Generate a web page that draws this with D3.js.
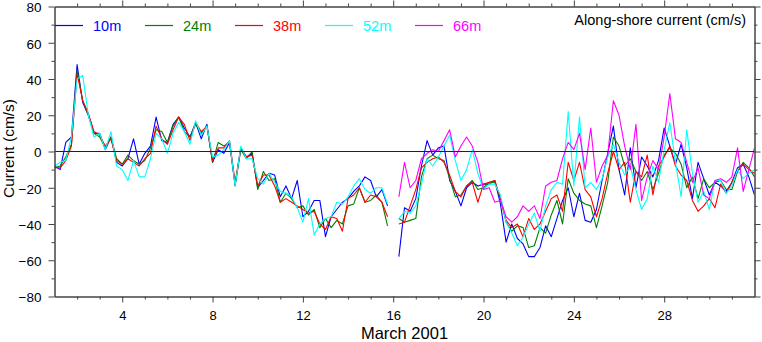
<!DOCTYPE html>
<html>
<head>
<meta charset="utf-8">
<script src="https://cdn.jsdelivr.net/npm/d3@7"></script>
<style>
  body { margin: 0; background: #fff; }
  svg { display: block; font-family: "Liberation Sans", Arial, Helvetica, sans-serif; }
</style>
</head>
<body>
<svg id="chart" width="762" height="342"></svg>
<script>
// Along-shore current at five depths, March 2001, sampled every 6 hours (day of month).
// null marks the gap in the record around the mooring turnaround on 16 March.
const startDay = 1;
const stepDay = 0.25;

const depthLabels = ["10m", "24m", "38m", "52m", "66m"];
const depthColors = ["#0000ff", "#008000", "#ff0000", "#00ffff", "#ff00ff"];

const current10m = [
  -8, -10, 5, 8,     48, 27, 20, 10,    10, 1, 8, -6,      -8, -4, 7, -7,
  -1, 3, 19, 6,      5, 15, 19, 13,     8, 16, 7, 15,      -6, 1, -1, 5,
  -19, 2, -3, -1,    -20, -16, -12, -13, -25, -19, -26, -16, -36, -33, -27, -27,
  -47, -36, -32, -28, -26, -22, -19, -14, -16, -25, -21, -30, null, -58, -31, -33,
  -26, -8, 6, -2,    2, 3, -16, -22,    -30, -20, -17, -19, -18, -18, -16, -29,
  -50, -40, -48, -51, -58, -58, -53, -41, -47, -37, -27, -20, -36, -23, -38, -39,
  -32, -16, -1, 14,  -10, -24, 2, -20,  -3, -8, -14, -5,   13, 3, -7, 4,
  -9, -26, -6, -15,  -24, -17, -19, -22, -17, -9, -7, -14,  -24
];

const current24m = [
  -9, -8, -3, 4,     45, 28, 20, 10,    8, 2, 8, -4,       -7, -2, -5, -7,
  -5, 2, 12, 11,     5, 14, 19, 11,     8, 15, 10, 14,     -6, 5, 3, 5,
  -18, 1, -4, 0,     -21, -11, -16, -15, -28, -23, -26, -31, -30, -35, -32, -42,
  -37, -42, -38, -40, -30, -29, -20, -28, -27, -24, -28, -41, null, -37, -39, -38,
  -37, -14, -4, -2,  -4, -5, -15, -25,  -24, -19, -16, -21, -20, -17, -17, -26,
  -39, -44, -41, -42, -53, -52, -42, -45, -35, -27, -40, -15, -23, -27, -29, -30,
  -42, -30, -17, 8,  3, -8, -4, -11,    -16, -11, -21, -12, -2, 2, -1, -7,
  -20, -14, -26, -15, -20, -17, -16, -21, -21, -11, -6, -9, -14
];

const current38m = [
  -9, -9, -5, 3,     43, 28, 21, 11,    9, 3, 7, -5,       -7, -4, -6, -8,
  -4, -1, 14, 7,     4, 12, 19, 15,     6, 16, 11, 14,     -5, 2, 2, 6,
  -17, 2, -3, -2,    -19, -13, -13, -19, -28, -26, -28, -30, -32, -34, -33, -40,
  -43, -36, -37, -44, -26, -24, -20, -28, -24, -25, -28, -36, null, -40, -39, -30,
  -21, -9, -6, -4,   -3, -6, -13, -22,  -25, -19, -17, -28, -18, -17, -16, -26,
  -38, -42, -40, -47, -37, -43, -40, -33, -26, -24, -33, -6, -16, -6, -21, -25,
  -36, -26, -12, 0,  -10, -6, -28, -11, -14, -2, -24, -8,  -3, 3, -8, -13,
  -16, -27, -33, -30, -26, -31, -18, -23, -17, -11, -7, -10, -12
];

const current52m = [
  -8, -6, -5, 8,     40, 42, 20, 8,     10, 1, 11, -8,     -10, -16, -5, -14,
  -14, -4, 10, 7,    -1, 10, 16, 11,    4, 17, 9, 14,      -3, -2, 1, 6,
  -19, 3, -4, -4,    -15, -18, -12, -17, -22, -23, -25, -31, -39, -26, -46, -40,
  -37, -36, -28, -29, -25, -19, -15, -21, -23, -20, -20, -29, null, -37, -33, -34,
  -30, -18, -4, -8,  -3, 3, 9, -5,      -16, -10, 1, -12,  -21, -18, -18, -24,
  -39, -45, -52, -47, -40, -34, -44, -30, -21, -17, -18, 22, -19, 19, -20, -17,
  -21, -15, -3, 4,   -6, -13, -8, -21,  -32, -26, -8, -17,  1, 16, -6, -25,
  12, -12, -28, -22, -32, -16, -16, -23, -19, -10, -15, -12, -10
];

const current66m = [
  null, null, null, null, null, null, null, null, null, null, null, null, null, null, null, null,
  null, null, null, null, null, null, null, null, null, null, null, null, null, null, null, null,
  null, null, null, null, null, null, null, null, null, null, null, null, null, null, null, null,
  null, null, null, null, null, null, null, null, null, null, null, null, null, -25, -6, -20,
  -16, -4, -1, 1,    0, 6, 12, -3,      3, 8, 3, -6,       -21, -20, -28, -27,
  -36, -39, -36, -30, -33, -30, -37, -19, -17, -16, -4, 5,  1, 10, -10, 13,
  -17, -8, -2, 28,   20, 3, -10, 15,    -27, -14, -5, -10, 8, 32, 7, 5,
  -6, -17, -9, -24,  -26, -16, -15, -17, -14, 2, -22, -10, 2
];

const seriesValues = [current10m, current24m, current38m, current52m, current66m];

const yMajorTicks = [-80, -60, -40, -20, 0, 20, 40, 60, 80];
const yMinorTicks = [-70, -50, -30, -10, 10, 30, 50, 70];
const xMajorTicks = [4, 8, 12, 16, 20, 24, 28];
const xMinorTicks = [2, 3, 5, 6, 7, 9, 10, 11, 13, 14, 15, 17, 18, 19, 21, 22, 23, 25, 26, 27, 29, 30, 31];

const chartTitle = "Along-shore current (cm/s)";
const xTitle = "March 2001";
const yTitle = "Current (cm/s)";

// ---- layout ----
const svg = d3.select("#chart");
const plot = { left: 54.5, right: 754.5, top: 6.5, bottom: 296.5 };

const x = d3.scaleLinear().domain([1, 32]).range([plot.left, plot.right]);
const y = d3.scaleLinear().domain([-80, 80]).range([plot.bottom, plot.top]);

const axisColor = "#444";

// ---- data lines ----
const clipId = "plot-clip";
svg.append("clipPath").attr("id", clipId)
  .append("rect")
  .attr("x", plot.left).attr("y", plot.top)
  .attr("width", plot.right - plot.left).attr("height", plot.bottom - plot.top);

const line = d3.line()
  .defined(v => v !== null)
  .x((v, i) => x(startDay + i * stepDay))
  .y(v => y(v));

svg.append("g").attr("clip-path", `url(#${clipId})`)
  .selectAll("path")
  .data(seriesValues)
  .join("path")
  .attr("d", line)
  .attr("fill", "none")
  .attr("stroke", (d, i) => depthColors[i])
  .attr("stroke-width", 1.1)
  .attr("stroke-linejoin", "round");

// zero reference line
svg.append("line")
  .attr("x1", plot.left).attr("x2", plot.right)
  .attr("y1", y(0)).attr("y2", y(0))
  .attr("stroke", "#222").attr("stroke-width", 1);

// ---- axes ----
function styleAxis(g) {
  g.selectAll(".domain").attr("stroke", axisColor);
  g.selectAll(".tick line").attr("stroke", axisColor);
  g.selectAll(".tick text").attr("fill", "#000").style("font-size", "13.5px");
}

// bottom
svg.append("g").attr("transform", `translate(0,${plot.bottom})`)
  .call(d3.axisBottom(x).tickValues(xMinorTicks).tickSize(3).tickFormat("").tickSizeOuter(0))
  .call(styleAxis);
svg.append("g").attr("transform", `translate(0,${plot.bottom})`)
  .call(d3.axisBottom(x).tickValues(xMajorTicks).tickSize(6).tickPadding(8.5).tickSizeOuter(0))
  .call(styleAxis)
  .call(g => g.selectAll(".tick text").style("font-size", "13px"));

// top
svg.append("g").attr("transform", `translate(0,${plot.top})`)
  .call(d3.axisTop(x).tickValues(xMinorTicks).tickSize(3).tickFormat("").tickSizeOuter(0))
  .call(styleAxis);
svg.append("g").attr("transform", `translate(0,${plot.top})`)
  .call(d3.axisTop(x).tickValues(xMajorTicks).tickSize(6).tickFormat("").tickSizeOuter(0))
  .call(styleAxis);

// left
svg.append("g").attr("transform", `translate(${plot.left},0)`)
  .call(d3.axisLeft(y).tickValues(yMinorTicks).tickSize(3).tickFormat("").tickSizeOuter(0))
  .call(styleAxis);
svg.append("g").attr("transform", `translate(${plot.left},0)`)
  .call(d3.axisLeft(y).tickValues(yMajorTicks).tickSize(6).tickPadding(7).tickSizeOuter(0))
  .call(styleAxis)
  .call(g => g.selectAll(".tick text").attr("dy", "0.4em"));

// right
svg.append("g").attr("transform", `translate(${plot.right},0)`)
  .call(d3.axisRight(y).tickValues(yMinorTicks).tickSize(3).tickFormat("").tickSizeOuter(0))
  .call(styleAxis);
svg.append("g").attr("transform", `translate(${plot.right},0)`)
  .call(d3.axisRight(y).tickValues(yMajorTicks).tickSize(6).tickFormat("").tickSizeOuter(0))
  .call(styleAxis);

// ---- titles ----
svg.append("text")
  .attr("x", (plot.left + plot.right) / 2).attr("y", 338.5)
  .attr("text-anchor", "middle")
  .style("font-size", "16.5px")
  .text(xTitle);

svg.append("text")
  .attr("transform", `translate(14,${(plot.top + plot.bottom) / 2 - 3}) rotate(-90)`)
  .attr("text-anchor", "middle")
  .style("font-size", "15.5px")
  .text(yTitle);

svg.append("text")
  .attr("x", 746).attr("y", 25)
  .attr("text-anchor", "end")
  .style("font-size", "14.5px")
  .text(chartTitle);

// ---- legend ----
const legend = svg.append("g")
  .selectAll("g")
  .data(depthLabels)
  .join("g")
  .attr("transform", (d, i) => `translate(${55 + i * 90},25)`);

legend.append("line")
  .attr("x1", 0).attr("x2", 28)
  .attr("y1", 0.5).attr("y2", 0.5)
  .attr("stroke", (d, i) => depthColors[i])
  .attr("stroke-width", 1.2);

legend.append("text")
  .attr("x", 38).attr("y", 5.5)
  .attr("fill", (d, i) => depthColors[i])
  .style("font-size", "14.5px")
  .text(d => d);
</script>
</body>
</html>
